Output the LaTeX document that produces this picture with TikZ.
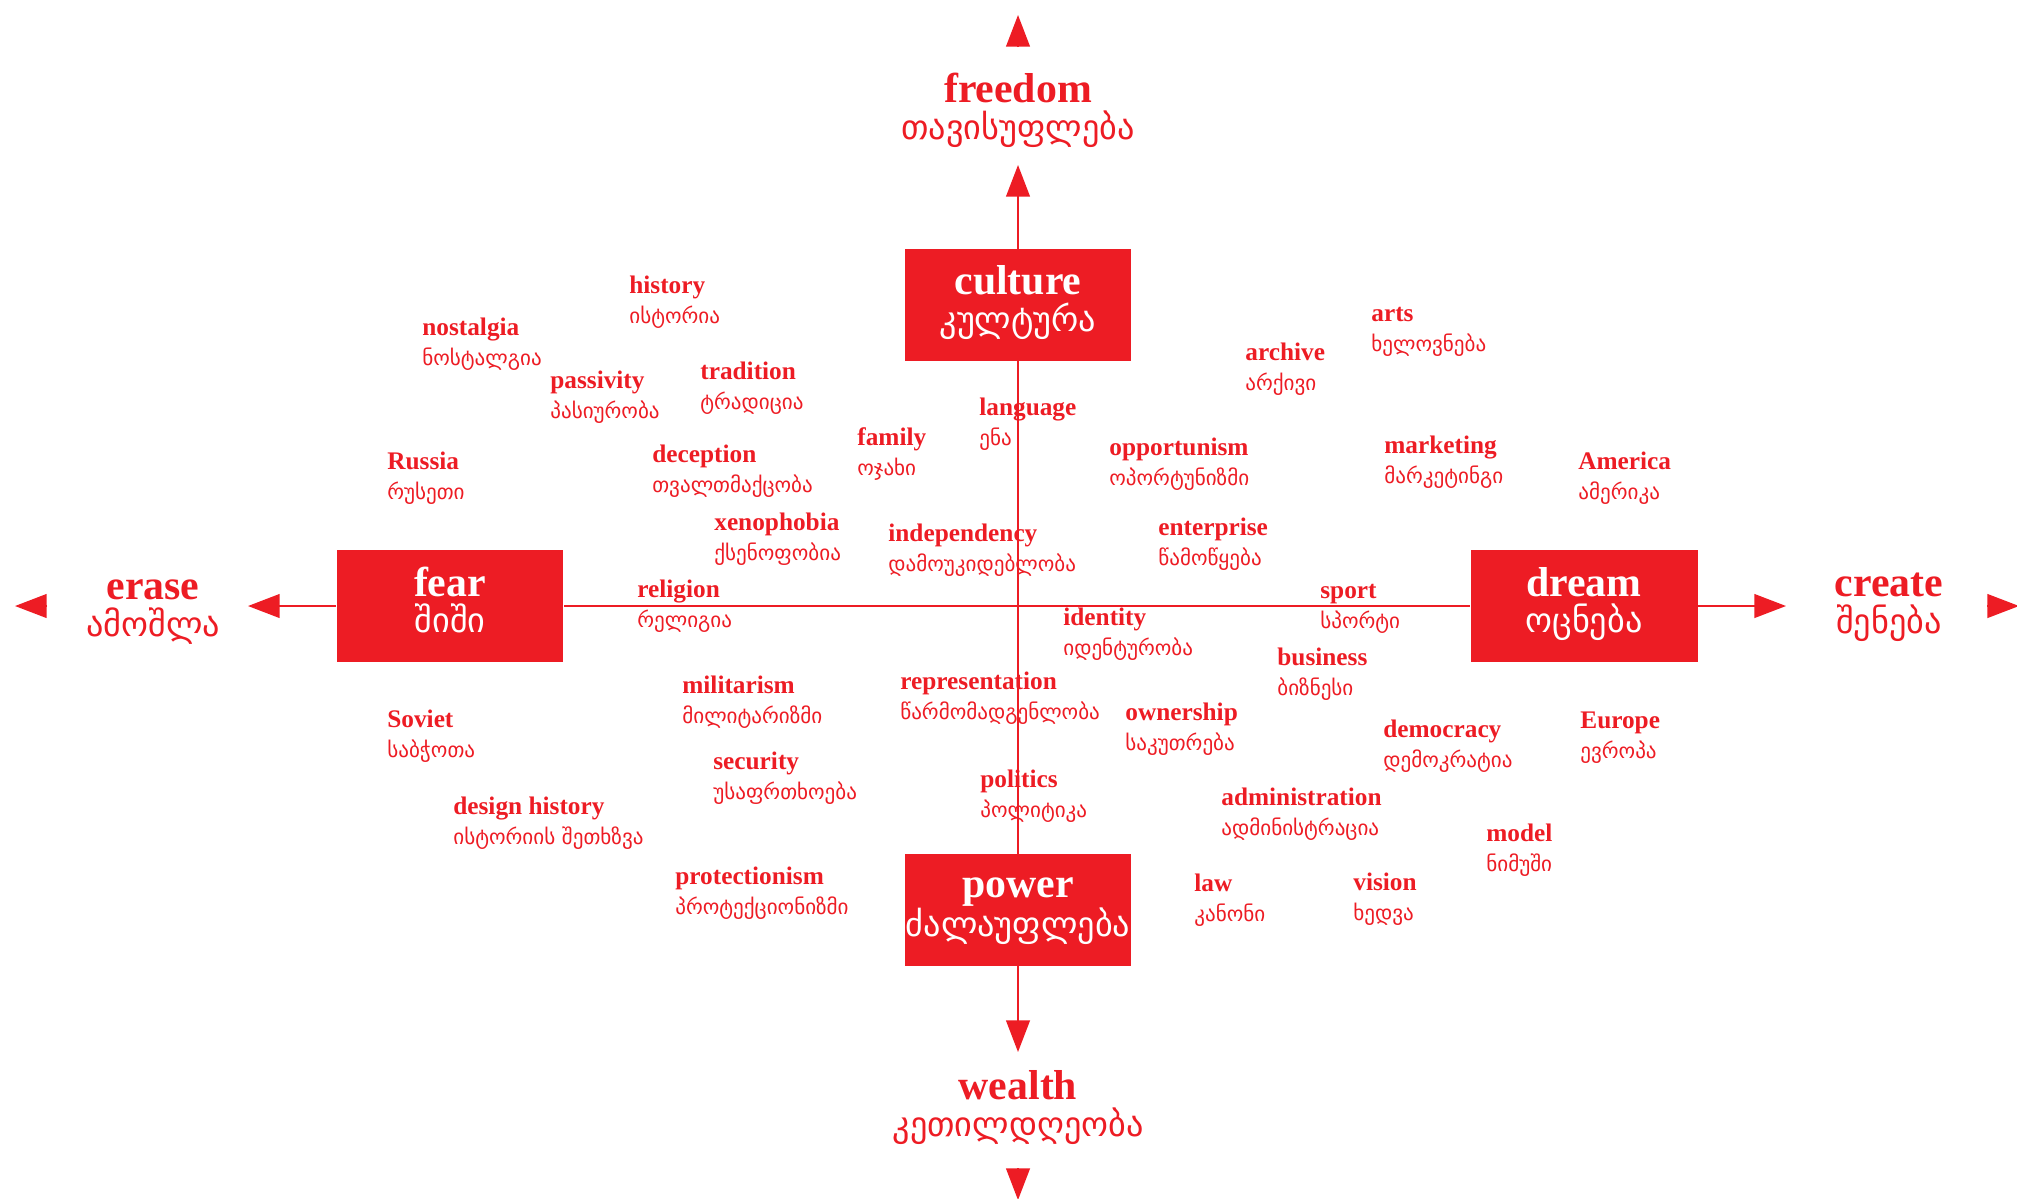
\documentclass[tikz,border=0pt]{standalone}
\usepackage{fontspec}
\setmainfont{Liberation Serif}
\newfontfamily\kafont{DejaVu Sans}
\usepackage{tikz}
\usetikzlibrary{arrows.meta, calc}
\definecolor{mapred}{RGB}{237,28,36}
\newcommand{\ka}[1]{{\kafont\mdseries\fontsize{12}{17}\selectfont #1}}
\newcommand{\kabig}[1]{{\kafont\mdseries\fontsize{19.5}{21}\selectfont #1}}

\begin{document}
\begin{tikzpicture}[
    x=0.02cm, y=-0.02cm,
    word/.style={anchor=base west, align=left, inner sep=0pt, text=mapred, font=\bfseries\fontsize{14.4}{17}\selectfont},
    pole/.style={anchor=base, align=center, inner sep=0pt, text=mapred, font=\bfseries\fontsize{23.8}{21}\selectfont},
    corebox/.style={rectangle, fill=mapred, text=white, minimum width=4.54cm, minimum height=2.24cm, inner sep=0pt, align=center, text height=36pt, text depth=5.4pt, font=\bfseries\fontsize{23.8}{21}\selectfont},
    axisline/.style={draw=mapred, line width=1.1pt},
    axis/.style={axisline, -{Triangle[length=18pt, width=13.5pt]}}
]
    \useasboundingbox (0,0) rectangle (2017,1198);

    % the four poles
    \node[corebox] (culture) at (1018,305) {culture\\\kabig{კულტურა}};
    \node[corebox] (fear) at (450,606) {fear\\\kabig{შიში}};
    \node[corebox] (dream) at (1584,606) {dream\\\kabig{ოცნება}};
    \node[corebox] (power) at (1018,910) {power\\\kabig{ძალაუფლება}};

    \node[pole] (freedom) at (1018,139) {freedom\\\kabig{თავისუფლება}};
    \node[pole] (erase) at (153,636) {erase\\\kabig{ამოშლა}};
    \node[pole] (create) at (1889,633) {create\\\kabig{შენება}};
    \node[pole] (wealth) at (1018,1136) {wealth\\\kabig{კეთილდღეობა}};

    % words
    \node[word] (history) at (629,323) {history\\\ka{ისტორია}};
    \node[word] (nostalgia) at (422,365) {nostalgia\\\ka{ნოსტალგია}};
    \node[word] (passivity) at (550,418) {passivity\\\ka{პასიურობა}};
    \node[word] (tradition) at (700,409) {tradition\\\ka{ტრადიცია}};
    \node[word] (family) at (857,475) {family\\\ka{ოჯახი}};
    \node[word] (language) at (979,445) {language\\\ka{ენა}};
    \node[word] (arts) at (1371,351) {arts\\\ka{ხელოვნება}};
    \node[word] (archive) at (1245,390) {archive\\\ka{არქივი}};
    \node[word] (opportunism) at (1109,485) {opportunism\\\ka{ოპორტუნიზმი}};
    \node[word] (marketing) at (1384,483) {marketing\\\ka{მარკეტინგი}};
    \node[word] (america) at (1578,499) {America\\\ka{ამერიკა}};
    \node[word] (russia) at (387,499) {Russia\\\ka{რუსეთი}};
    \node[word] (deception) at (652,492) {deception\\\ka{თვალთმაქცობა}};
    \node[word] (xenophobia) at (714,560) {xenophobia\\\ka{ქსენოფობია}};
    \node[word] (independency) at (888,571) {independency\\\ka{დამოუკიდებლობა}};
    \node[word] (enterprise) at (1158,565) {enterprise\\\ka{წამოწყება}};
    \node[word] (religion) at (637,627) {religion\\\ka{რელიგია}};
    \node[word] (identity) at (1063,655) {identity\\\ka{იდენტურობა}};
    \node[word] (sport) at (1320,628) {sport\\\ka{სპორტი}};
    \node[word] (business) at (1277,695) {business\\\ka{ბიზნესი}};
    \node[word] (militarism) at (682,723) {militarism\\\ka{მილიტარიზმი}};
    \node[word] (representation) at (900,719) {representation\\\ka{წარმომადგენლობა}};
    \node[word] (ownership) at (1125,750) {ownership\\\ka{საკუთრება}};
    \node[word] (democracy) at (1383,767) {democracy\\\ka{დემოკრატია}};
    \node[word] (europe) at (1580,758) {Europe\\\ka{ევროპა}};
    \node[word] (soviet) at (387,757) {Soviet\\\ka{საბჭოთა}};
    \node[word] (security) at (713,799) {security\\\ka{უსაფრთხოება}};
    \node[word] (politics) at (980,817) {politics\\\ka{პოლიტიკა}};
    \node[word] (designhistory) at (453,844) {design history\\\ka{ისტორიის შეთხზვა}};
    \node[word] (administration) at (1221,835) {administration\\\ka{ადმინისტრაცია}};
    \node[word] (model) at (1486,871) {model\\\ka{ნიმუში}};
    \node[word] (protectionism) at (675,914) {protectionism\\\ka{პროტექციონიზმი}};
    \node[word] (law) at (1194,921) {law\\\ka{კანონი}};
    \node[word] (vision) at (1353,920) {vision\\\ka{ხედვა}};

    % arrow ends
    \coordinate (uptip) at (1018,15);
    \coordinate (upin) at (1018,165);
    \coordinate (lefttip) at (15,606);
    \coordinate (leftin) at (248,606);
    \coordinate (righttip) at (2019,606);
    \coordinate (rightin) at (1786,606);
    \coordinate (downin) at (1018,1052);
    \coordinate (downtip) at (1018,1200);

    \draw[axisline] (culture) -- (power);
    \draw[axisline] (fear) -- (dream);
    \draw[axis] (culture) -- (upin);
    \draw[axis] (fear) -- (leftin);
    \draw[axis] (dream) -- (rightin);
    \draw[axis] (power) -- (downin);
    \draw[axis] ($(uptip)+(0,32)$) -- (uptip);
    \draw[axis] ($(lefttip)+(32,0)$) -- (lefttip);
    \draw[axis] ($(righttip)+(-32,0)$) -- (righttip);
    \draw[axis] ($(downtip)+(0,-32)$) -- (downtip);
\end{tikzpicture}
\end{document}
